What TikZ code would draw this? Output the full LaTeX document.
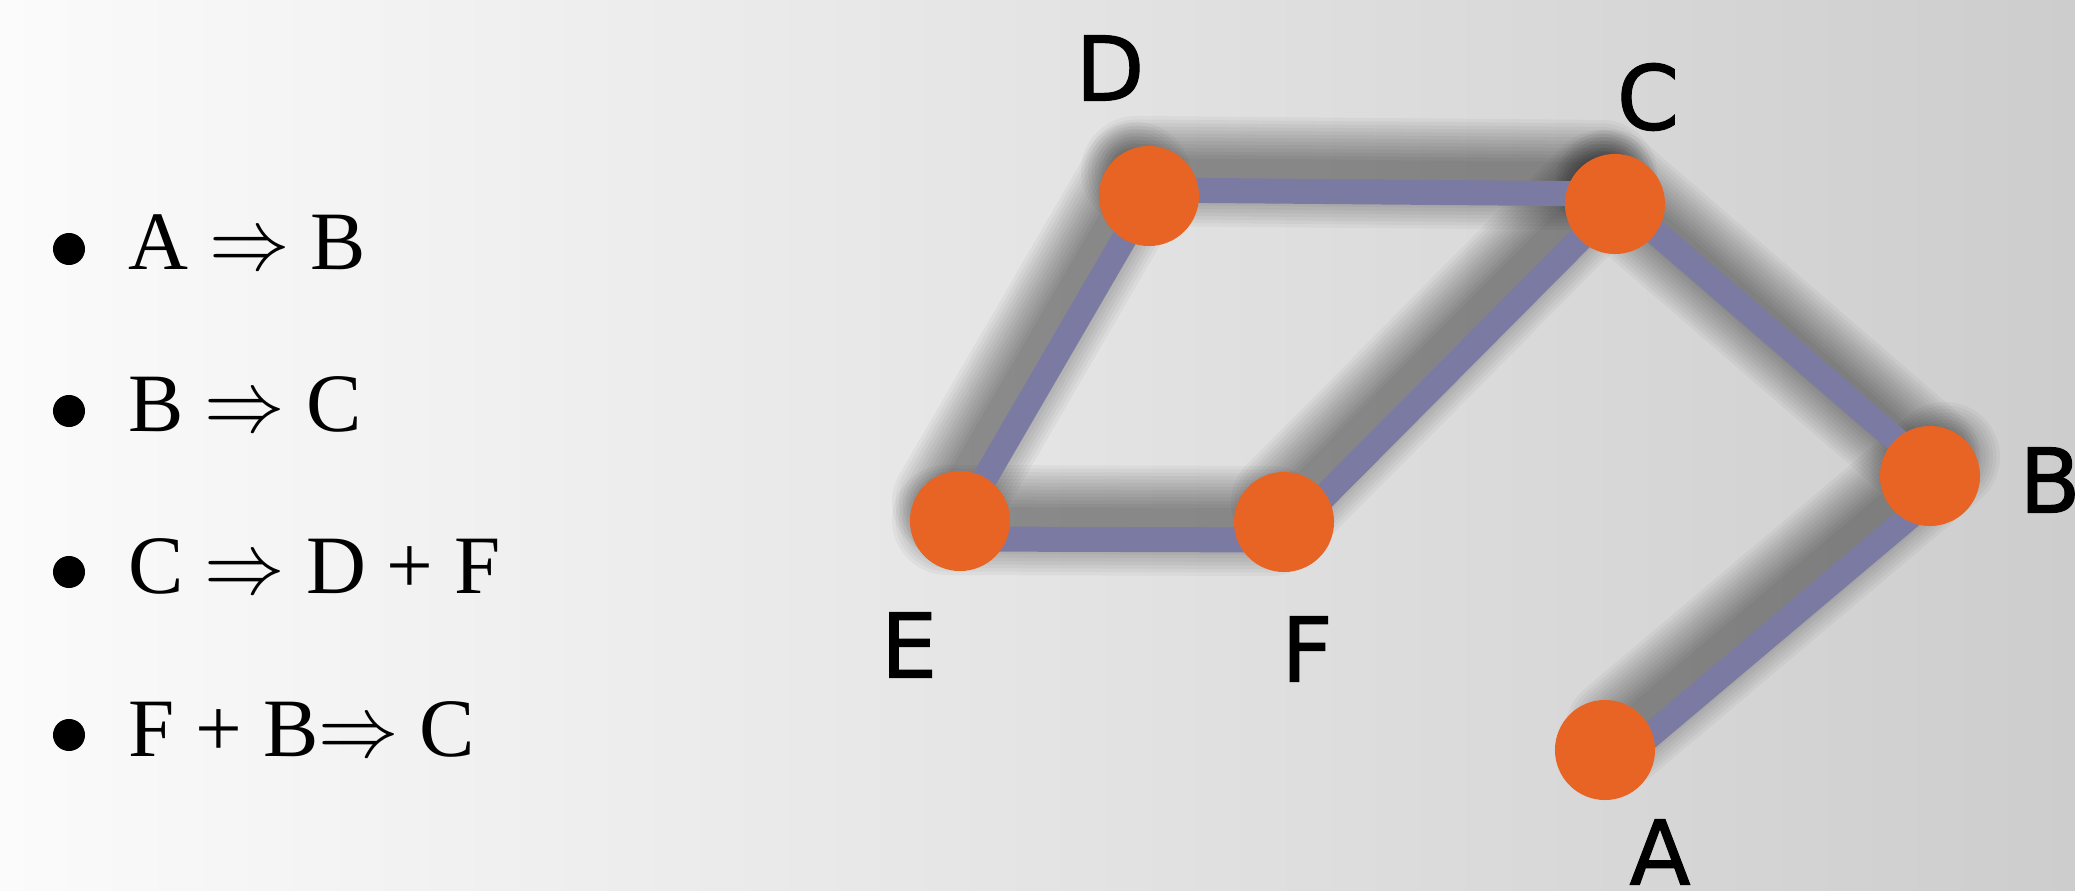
\documentclass[tikz,border=0pt]{standalone}
\usepackage{fontspec}
\usepackage{graphicx}
\setmainfont{Liberation Serif}
\newfontfamily\labelfont[FakeBold=1.2]{DejaVu Sans}
\usetikzlibrary{calc}
\definecolor{nodeorange}{HTML}{E86424}
\definecolor{linkpurple}{HTML}{7B7AA3}
\definecolor{bgleft}{HTML}{FBFBFB}
\definecolor{bgright}{HTML}{CDCDCD}
\newcommand\implies{\scalebox{0.92}[1]{$\Rightarrow$}}
\tikzset{
  vertexnode/.style={circle, fill=nodeorange, minimum size=1cm, inner sep=0pt},
  vlabel/.style={font=\labelfont\fontsize{25.4}{30}\selectfont, inner sep=0pt, text=black},
  listitem/.style={font=\fontsize{23.6}{28}\selectfont, inner sep=0pt, anchor=base west},
  bulletdot/.style={circle, fill=black, minimum size=0.32cm, inner sep=0pt},
  link/.style={draw=linkpurple, line width=0.25cm},
  shadowstroke/.style={draw=black, line cap=round, opacity=0.037},
}
\newcommand\shadowline[2]{%
  \begin{scope}[transform canvas={xshift=-0.13cm,yshift=0.19cm}]
    \foreach \w in {0.26,0.33,0.40,0.47,0.54,0.61,0.68,0.75,0.82,0.89,0.96,1.03,1.10}{%
      \draw[shadowstroke, line width=\w cm] #1 -- #2;}
  \end{scope}}
\begin{document}
\begin{tikzpicture}[x=0.01cm,y=-0.01cm]
  % background
  \shade[left color=bgleft, right color=bgright] (0,0) rectangle (2075,891);
  \useasboundingbox (0,0) rectangle (2075,891);

  % vertex positions
  \path
    (1605,750) coordinate (pA)
    (1930,476) coordinate (pB)
    (1615,204) coordinate (pC)
    (1149,196) coordinate (pD)
    (960,521)  coordinate (pE)
    (1284,522) coordinate (pF);

  % shadows
  \shadowline{($(pA)+(28,0)$)}{($(pB)+(28,0)$)}
  \shadowline{($(pB)+(8,0)$)}{($(pC)+(8,0)$)}
  \shadowline{($(pC)+(0,-10)$)}{($(pD)+(0,-6)$)}
  \shadowline{(pC)}{($(pF)+(15,0)$)}
  \shadowline{(pD)}{(pE)}
  \shadowline{($(pE)+(0,18)$)}{($(pF)+(0,18)$)}

  % links
  \draw[link] ($(pA)+(28,0)$) -- ($(pB)+(28,0)$);
  \draw[link] ($(pB)+(8,0)$) -- ($(pC)+(8,0)$);
  \draw[link] ($(pC)+(0,-10)$) -- ($(pD)+(0,-6)$);
  \draw[link] (pC) -- ($(pF)+(15,0)$);
  \draw[link] (pD) -- (pE);
  \draw[link] ($(pE)+(0,18)$) -- ($(pF)+(0,18)$);

  % vertices
  \node[vertexnode] (A) at (pA) {};
  \node[vertexnode] (B) at (pB) {};
  \node[vertexnode] (C) at (pC) {};
  \node[vertexnode] (D) at (pD) {};
  \node[vertexnode] (E) at (pE) {};
  \node[vertexnode] (F) at (pF) {};

  % vertex labels
  \node[vlabel] (lA) at (1660,852) {A};
  \node[vlabel] (lB) at (2050,480) {B};
  \node[vlabel] (lC) at (1648,97) {C};
  \node[vlabel] (lD) at (1110,68) {D};
  \node[vlabel] (lE) at (909,645) {E};
  \node[vlabel] (lF) at (1307,649) {F};

  % list
  \node[bulletdot] (b1) at (69,249) {};
  \node[bulletdot] (b2) at (69,411) {};
  \node[bulletdot] (b3) at (69,572) {};
  \node[bulletdot] (b4) at (69,735) {};
  \node[listitem] (t1) at (128,270) {A \implies{} B};
  \node[listitem] (t2) at (128,432) {B \implies{} C};
  \node[listitem] (t3) at (128,593) {C \implies{} D + F};
  \node[listitem] (t4) at (128,756) {F + B\implies{} C};
\end{tikzpicture}
\end{document}
